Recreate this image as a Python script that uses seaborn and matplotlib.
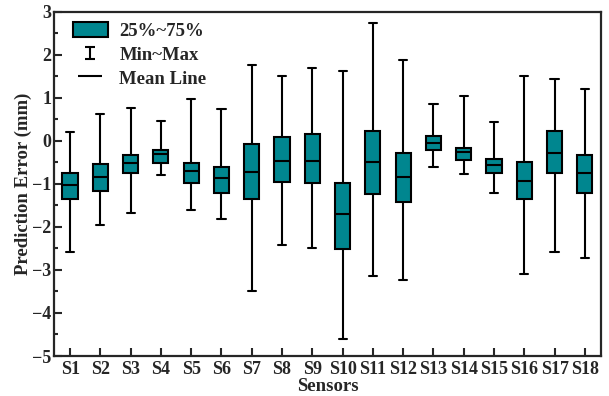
import pandas as pd
import numpy as np
import matplotlib.pyplot as plt
import seaborn as sns
from matplotlib.patches import Patch
from matplotlib.lines import Line2D
from matplotlib.path import Path
from matplotlib.ticker import MultipleLocator

sns.set_style('ticks')
plt.rcParams['font.family'] = ['Liberation Serif', 'DejaVu Serif']
plt.rcParams['font.weight'] = 'bold'

sensors = [f"S{i}" for i in range(1, 19)]
# five-number summaries
mins = [-2.59, -1.95, -1.68, -0.79, -1.60, -1.81, -3.49, -2.43, -2.48,
        -4.60, -3.14, -3.24, -0.60, -0.76, -1.20, -3.10, -2.59, -2.73]
q1 = [-1.36, -1.17, -0.75, -0.52, -0.97, -1.22, -1.36, -0.95, -0.98,
      -2.52, -1.23, -1.43, -0.22, -0.44, -0.75, -1.36, -0.74, -1.20]
med = [-1.02, -0.84, -0.52, -0.31, -0.71, -0.87, -0.73, -0.46, -0.46,
       -1.71, -0.48, -0.85, -0.04, -0.25, -0.56, -0.93, -0.28, -0.74]
q3 = [-0.75, -0.54, -0.33, -0.22, -0.52, -0.60, -0.07, 0.08, 0.15,
      -0.98, 0.24, -0.29, 0.11, -0.17, -0.43, -0.50, 0.22, -0.33]
maxs = [0.20, 0.63, 0.77, 0.46, 0.98, 0.74, 1.76, 1.50, 1.70,
        1.63, 2.75, 1.88, 0.87, 1.05, 0.43, 1.51, 1.45, 1.21]

TEAL = '#00868F'

rows = []
for s, a, b, c, d, e in zip(sensors, mins, q1, med, q3, maxs):
    for v in (a, b, c, d, e):
        rows.append({'Sensors': s, 'Error': v})
df = pd.DataFrame(rows)

fig = plt.figure(figsize=(6.09, 3.96), dpi=100)
ax = fig.add_axes([0.0887, 0.101, 0.898, 0.869])

sns.boxplot(data=df, x='Sensors', y='Error', ax=ax, whis=(0, 100), width=0.5,
            color=TEAL, saturation=1, linecolor='black', linewidth=1.5,
            showcaps=True)

# narrower caps, like the original
ends = np.array(mins + maxs)
for ln in ax.lines:
    xd = np.asarray(ln.get_xdata(), dtype=float)
    yd = np.asarray(ln.get_ydata(), dtype=float)
    if len(xd) == 2 and np.isclose(yd[0], yd[1]) and np.isclose(ends, yd[0]).any():
        c = xd.mean()
        ln.set_xdata([c - 0.135, c + 0.135])

ax.set_xlim(-0.53, 17.53)
ax.set_ylim(-5, 3)
ax.yaxis.set_major_locator(MultipleLocator(1))
ax.yaxis.set_minor_locator(MultipleLocator(0.5))
ax.tick_params(axis='both', which='major', direction='in', length=6, width=1.5,
               labelsize=13)
ax.tick_params(axis='y', which='major', pad=2)
ax.tick_params(axis='y', which='minor', direction='in', length=3, width=1.5)
for sp in ax.spines.values():
    sp.set_linewidth(1.6)
for lab in ax.get_xticklabels() + ax.get_yticklabels():
    lab.set_fontweight('bold')

ax.set_xlabel('Sensors', fontsize=13.5, fontweight='bold', labelpad=0)
ax.set_ylabel('Prediction Error (mm)', fontsize=13.5, fontweight='bold', labelpad=0)

ibeam = Path([(-0.9, -1), (0.9, -1), (0, -1), (0, 1), (-0.9, 1), (0.9, 1)],
             [Path.MOVETO, Path.LINETO, Path.MOVETO, Path.LINETO, Path.MOVETO, Path.LINETO])
handles = [
    Patch(facecolor=TEAL, edgecolor='black', linewidth=1.5),
    Line2D([0], [0], color='black', marker=ibeam, markersize=8, markeredgewidth=1.5,
           markerfacecolor='none', linestyle='None'),
    Line2D([0], [0], color='black', marker='_', markersize=17, markeredgewidth=1.5,
           linestyle='None'),
]
ax.legend(handles, ['25%~75%', 'Min~Max', 'Mean Line'], loc='upper left',
          bbox_to_anchor=(0.01, 1.01), frameon=False,
          prop={'size': 13.5, 'weight': 'bold'},
          handlelength=1.9, handleheight=0.9, labelspacing=0.3,
          borderaxespad=0.3, handletextpad=0.6)

fig.savefig('out.png', dpi=100)
